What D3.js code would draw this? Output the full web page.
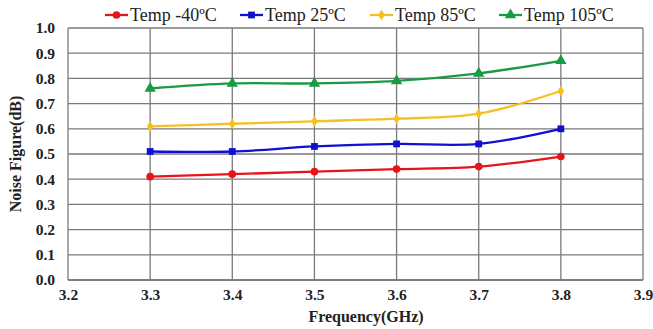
<!DOCTYPE html>
<html>
<head>
<meta charset="utf-8">
<script src="https://cdn.jsdelivr.net/npm/d3@7"></script>
<style>
  body { margin: 0; background: #fff; }
  svg text { font-family: "Liberation Serif", "Times New Roman", serif; }
  .axis text { font-weight: bold; font-size: 15.5px; fill: #222; }
  .axis path, .axis line { stroke: none; }
</style>
</head>
<body>
<div id="chart"></div>
<script>
const freqs = [3.3, 3.4, 3.5, 3.6, 3.7, 3.8];
const seriesNames = ['Temp -40ºC', 'Temp 25ºC', 'Temp 85ºC', 'Temp 105ºC'];
const seriesColors = ['#e8141b', '#1010d0', '#f5c022', '#1a9a45'];
const seriesShapes = ['circle', 'square', 'diamond', 'triangle'];
const tempM40 = [0.41, 0.42, 0.43, 0.44, 0.45, 0.49];
const temp25 = [0.51, 0.51, 0.53, 0.54, 0.54, 0.60];
const temp85 = [0.61, 0.62, 0.63, 0.64, 0.66, 0.75];
const temp105 = [0.76, 0.78, 0.78, 0.79, 0.82, 0.87];
const xTicks = [3.2, 3.3, 3.4, 3.5, 3.6, 3.7, 3.8, 3.9];
const yTicks = [0, 0.1, 0.2, 0.3, 0.4, 0.5, 0.6, 0.7, 0.8, 0.9, 1.0];

const allSeries = [tempM40, temp25, temp85, temp105];

const width = 653, height = 329;
const margin = { top: 28, right: 10, bottom: 49, left: 68 };
const plotW = width - margin.left - margin.right;
const plotH = height - margin.top - margin.bottom;

const svg = d3.select('#chart').append('svg')
    .attr('width', width)
    .attr('height', height)
    .attr('font-family', '"Liberation Serif", "Times New Roman", serif');

const chart = svg.append('g')
    .attr('transform', `translate(${margin.left},${margin.top})`);

const xScale = d3.scaleLinear().domain([3.2, 3.9]).range([0, plotW]);
const yScale = d3.scaleLinear().domain([0, 1]).range([plotH, 0]);

// gridlines
chart.append('g')
    .selectAll('line')
    .data(yTicks)
    .enter().append('line')
    .attr('x1', 0).attr('x2', plotW)
    .attr('y1', d => yScale(d)).attr('y2', d => yScale(d))
    .attr('stroke', d => d === 0 ? '#555' : '#7a7a7a').attr('stroke-width', 1.3);

chart.append('g')
    .selectAll('line')
    .data(xTicks)
    .enter().append('line')
    .attr('x1', d => xScale(d)).attr('x2', d => xScale(d))
    .attr('y1', 0).attr('y2', plotH)
    .attr('stroke', '#7a7a7a').attr('stroke-width', 1.3);

// axes (labels only)
chart.append('g')
    .classed('axis', true)
    .attr('font-family', null)
    .attr('transform', `translate(0,${plotH})`)
    .call(d3.axisBottom(xScale).tickValues(xTicks).tickFormat(d3.format('.1f')).tickSize(0).tickPadding(9))
    .attr('font-family', null).attr('font-size', null);

chart.append('g')
    .classed('axis', true)
    .call(d3.axisLeft(yScale).tickValues(yTicks).tickFormat(d3.format('.1f')).tickSize(0).tickPadding(13))
    .attr('font-family', null).attr('font-size', null);

// lines
const line = d3.line()
    .x((d, i) => xScale(freqs[i]))
    .y(d => yScale(d))
    .curve(d3.curveCatmullRom.alpha(0.5));

const symbolFor = {
    circle: d3.symbol().type(d3.symbolCircle).size(46),
    square: d3.symbol().type(d3.symbolSquare).size(46),
    diamond: d3.symbol().type(d3.symbolDiamond).size(36),
    triangle: d3.symbol().type(d3.symbolTriangle).size(56)
};

allSeries.forEach((vals, s) => {
    chart.append('path')
        .datum(vals)
        .attr('d', line)
        .attr('fill', 'none')
        .attr('stroke', seriesColors[s])
        .attr('stroke-width', 2.3);

    chart.selectAll('.m' + s)
        .data(vals)
        .enter().append('path')
        .attr('class', 'm' + s)
        .attr('transform', (d, i) => `translate(${xScale(freqs[i])},${yScale(d)})`)
        .attr('d', symbolFor[seriesShapes[s]])
        .attr('fill', seriesColors[s]);
});

// axis titles
svg.append('text')
    .attr('x', 366)
    .attr('y', 322)
    .attr('text-anchor', 'middle')
    .style('font-weight', 'bold')
    .style('font-size', '16px')
    .attr('fill', '#222')
    .text('Frequency(GHz)');

svg.append('text')
    .attr('transform', `translate(21, ${margin.top + plotH / 2}) rotate(-90)`)
    .attr('text-anchor', 'middle')
    .style('font-weight', 'bold')
    .style('font-size', '16px')
    .attr('fill', '#222')
    .text('Noise Figure(dB)');

// legend
const legendX = [105, 240, 370, 499];
const legend = svg.append('g');
seriesNames.forEach((name, s) => {
    const g = legend.append('g').attr('transform', `translate(${legendX[s]},15)`);
    g.append('line').attr('x1', 0).attr('x2', 23).attr('y1', 0).attr('y2', 0)
        .attr('stroke', seriesColors[s]).attr('stroke-width', 2.3);
    g.append('path').attr('transform', 'translate(11.5,0)')
        .attr('d', symbolFor[seriesShapes[s]]).attr('fill', seriesColors[s]);
    g.append('text').attr('x', 25).attr('y', 6)
        .style('font-size', '18px').attr('fill', '#222')
        .text(name);
});
</script>
</body>
</html>
